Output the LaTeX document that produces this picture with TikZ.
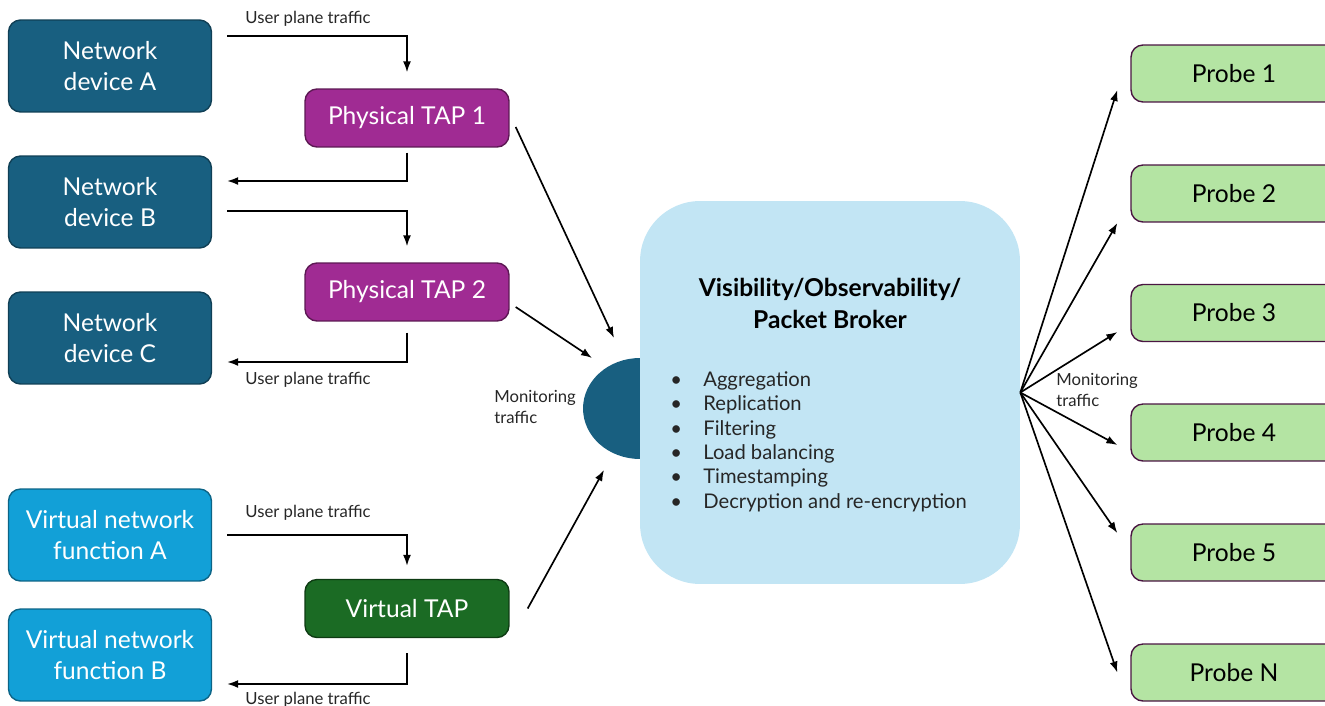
\documentclass[tikz,border=0pt]{standalone}
\usepackage{fontspec}
\setmainfont{Lato}
\usetikzlibrary{arrows.meta}
\usetikzlibrary{positioning}
\usetikzlibrary{shapes.geometric}
\definecolor{devfill}{HTML}{185F80}
\definecolor{devline}{HTML}{103F55}
\definecolor{vnffill}{HTML}{12A0D7}
\definecolor{vnfline}{HTML}{0C6486}
\definecolor{tapfill}{HTML}{A02B93}
\definecolor{tapline}{HTML}{5C1853}
\definecolor{vtapfill}{HTML}{1B6B24}
\definecolor{vtapline}{HTML}{0E3B13}
\definecolor{brokerfill}{HTML}{C2E5F4}
\definecolor{probefill}{HTML}{B4E4A3}
\definecolor{probeline}{HTML}{4A1642}
\definecolor{labelgrey}{HTML}{262626}
\tikzset{
  devbox/.style= {
    rectangle,
    rounded corners = 0.24cm,
    draw = devline,
    fill = devfill,
    line width = 0.8pt,
    text = white,
    align = center,
    minimum width = 4.06cm,
    minimum height = 1.84cm,
    font = \fontsize{14}{18}\selectfont
  },
  vnfbox/.style= {
    devbox,
    draw = vnfline,
    fill = vnffill
  },
  tapbox/.style= {
    devbox,
    draw = tapline,
    fill = tapfill,
    minimum width = 4.08cm,
    minimum height = 1.16cm
  },
  vtapbox/.style= {
    tapbox,
    draw = vtapline,
    fill = vtapfill
  },
  probebox/.style= {
    tapbox,
    draw = probeline,
    fill = probefill,
    text = black,
    minimum width = 4.12cm,
    minimum height = 1.14cm
  },
  brokerbox/.style= {
    rectangle,
    rounded corners = 1.2cm,
    fill = brokerfill,
    minimum width = 7.6cm,
    minimum height = 7.66cm
  },
  port/.style= {
    ellipse,
    fill = devfill,
    minimum width = 2.28cm,
    minimum height = 2.02cm
  },
  smalltext/.style= {
    inner sep = 0pt,
    align = left,
    text = labelgrey,
    font = \fontsize{9.5}{12}\selectfont
  },
  flow/.style= {
    -{Latex[length=2.2mm,width=1.6mm]},
    line width = 0.95pt
  }
}

\begin{document}
\begin{tikzpicture}[x=0.02cm,y=-0.02cm]
  \useasboundingbox (0,0) rectangle (1325,706);

  % sources
  \node[devbox] (devA) at (110,66) {Network\\device A};
  \node[devbox] (devB) at (110,202) {Network\\device B};
  \node[devbox] (devC) at (110,338) {Network\\device C};
  \node[vnfbox] (vnfA) at (110,535) {Virtual network\\function A};
  \node[vnfbox] (vnfB) at (110,655) {Virtual network\\function B};

  % taps
  \node[tapbox] (tap1) at (407,118) {Physical TAP 1};
  \node[tapbox] (tap2) at (407,292) {Physical TAP 2};
  \node[vtapbox] (vtap) at (407,608.5) {Virtual TAP};

  % broker
  \node[port] (port) at (640,408.5) {};
  \node[brokerbox] (broker) at (830,392.5) {};
  \node[align=center,font=\fontsize{14}{18}\selectfont\bfseries] (title)
    at (830,303.5) {Visibility/Observability/\\Packet Broker};
  \node[anchor=north west,inner sep=0pt,align=left,text=labelgrey,
    font=\fontsize{11.5}{13.9}\selectfont] (tasks) at (670,371) {
    \makebox[0.66cm][l]{\textbullet}Aggregation\\
    \makebox[0.66cm][l]{\textbullet}Replication\\
    \makebox[0.66cm][l]{\textbullet}Filtering\\
    \makebox[0.66cm][l]{\textbullet}Load balancing\\
    \makebox[0.66cm][l]{\textbullet}Timestamping\\
    \makebox[0.66cm][l]{\textbullet}Decryption and re-encryption};

  % probes
  \foreach \n/\y [count=\i] in {1/73.5,2/193.5,3/313,4/432.5,5/552.5,N/672.5}
    \node[probebox] (probe\i) at (1234,\y) {Probe \n};

  % user plane traffic
  \draw[flow] ([shift={(15,-30)}]devA.east) -| ([shift={(0,-16)}]tap1.north);
  \node[smalltext] (up1) at (308,19) {User plane traffic};
  \draw[flow] ([shift={(0,5)}]tap1.south) |- ([shift={(15,-21)}]devB.east);
  \draw[flow] ([shift={(15,9)}]devB.east) -| ([shift={(0,-16)}]tap2.north);
  \draw[flow] ([shift={(0,11)}]tap2.south) |- ([shift={(15,24)}]devC.east);
  \node[smalltext] (up2) at (308,380) {User plane traffic};
  \draw[flow] ([shift={(15,0)}]vnfA.east) -| ([shift={(0,-13)}]vtap.north);
  \node[smalltext] (up3) at (308,513) {User plane traffic};
  \draw[flow] ([shift={(0,15)}]vtap.south) |- ([shift={(15,29)}]vnfB.east);
  \node[smalltext] (up4) at (308,700) {User plane traffic};

  % monitoring traffic in
  \coordinate (mon1) at (614,338);
  \coordinate (mon2) at (592,358);
  \coordinate (mon3) at (604,470);
  \draw[flow] ([shift={(6,9)}]tap1.east) -- (mon1);
  \draw[flow] ([shift={(6,15)}]tap2.east) -- (mon2);
  \draw[flow] ([shift={(18,0)}]vtap.east) -- (mon3);
  \node[smalltext,anchor=north west] (monL) at (494,390) {Monitoring\\traffic};

  % monitoring traffic out
  \foreach \i/\dy in {1/16.5,2/29.5,3/19,4/12.5,5/-19.5,6/0}
    \draw[flow] (broker.east) -- ([shift={(-13,\dy)}]probe\i.west);
  \node[smalltext,anchor=north west] (monR) at (1056,373) {Monitoring\\traffic};
\end{tikzpicture}
\end{document}
